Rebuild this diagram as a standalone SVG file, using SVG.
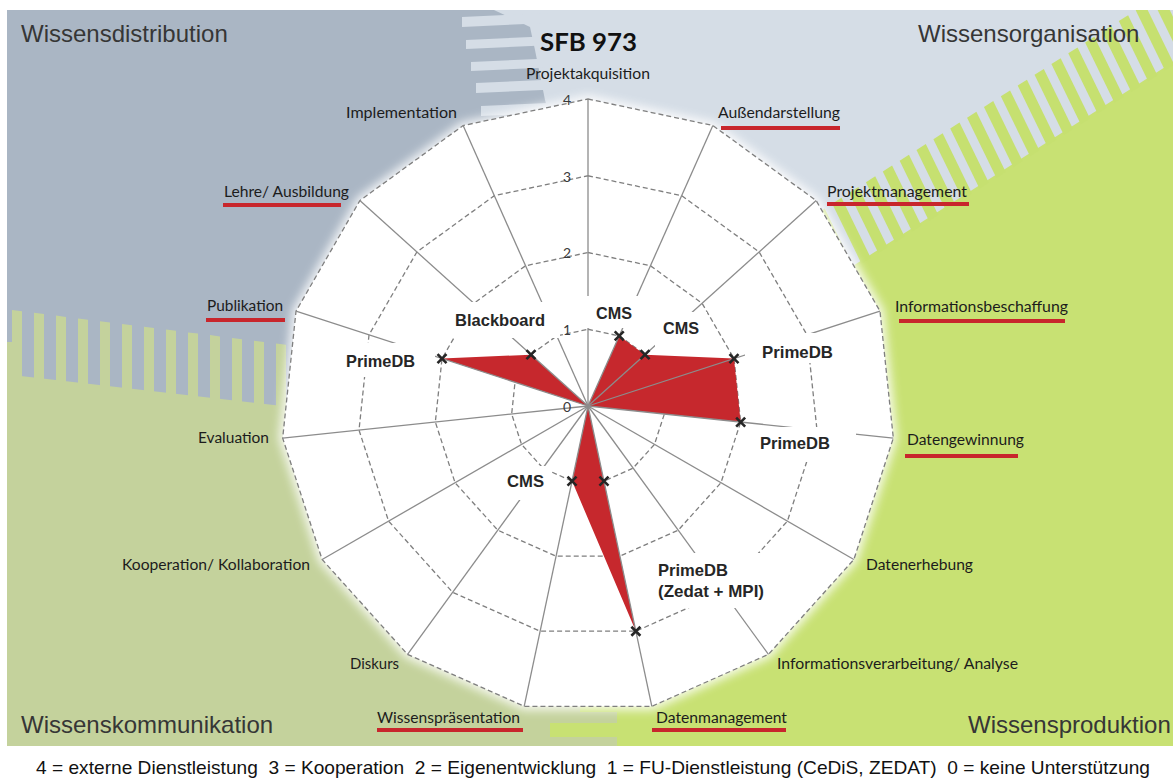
<svg xmlns="http://www.w3.org/2000/svg" width="1173" height="779" viewBox="0 0 1173 779">
<defs>
<style>
.q{font-family:"Liberation Sans",Arial,sans-serif;font-size:24px;fill:#363636}
.ax{font-family:Lato,"Liberation Sans",sans-serif;font-size:14.5px;fill:#1c1c1c}
.dl{font-family:"Liberation Sans",Arial,sans-serif;font-size:16.5px;font-weight:bold;fill:#262626}
.lv{font-family:Lato,"Liberation Sans",sans-serif;font-size:14px;fill:#3a3a3a;text-anchor:end}
.ring{fill:none;stroke:#7f7f7f;stroke-width:1.3;stroke-dasharray:5 3}
.axis{stroke:#8c8c8c;stroke-width:1.3}
.ul{fill:#c8262c}
.box{fill:#fff}
.mk{fill:none;stroke:#262626;stroke-width:2.6}
</style>
<filter id="glow" x="-20%" y="-20%" width="140%" height="140%"><feGaussianBlur stdDeviation="5"/></filter>
<clipPath id="bgclip"><rect x="7" y="10" width="1166" height="736"/></clipPath>
<path id="mk" d="M-4.5,-4.5 L4.5,4.5 M-4.5,4.5 L4.5,-4.5"/>
</defs>

<g id="background" clip-path="url(#bgclip)">
<rect x="7" y="10" width="600" height="736" fill="#c4d29c"/>
<rect x="460" y="10" width="713" height="420" fill="#d5dde6"/>
<polygon fill="#c8e173" points="1173,62 819,287.5 588,406 588,700 580,700 580,746 1173,746"/>
<g fill="#c6e070" transform="matrix(-0.843 0.537 -0.438 -0.899 1173 62)">
<rect x="-60" y="-3" width="11" height="67"/><rect x="-40" y="-3" width="11" height="67"/><rect x="-20" y="-3" width="11" height="67"/><rect x="0" y="-3" width="11" height="67"/><rect x="20" y="-3" width="11" height="67"/><rect x="40" y="-3" width="11" height="67"/><rect x="60" y="-3" width="11" height="67"/><rect x="80" y="-3" width="11" height="67"/><rect x="100" y="-3" width="11" height="67"/><rect x="120" y="-3" width="11" height="67"/><rect x="140" y="-3" width="11" height="67"/><rect x="160" y="-3" width="11" height="67"/><rect x="180" y="-3" width="11" height="67"/><rect x="200" y="-3" width="11" height="67"/><rect x="220" y="-3" width="11" height="67"/><rect x="240" y="-3" width="11" height="67"/><rect x="260" y="-3" width="11" height="67"/><rect x="280" y="-3" width="11" height="67"/><rect x="300" y="-3" width="11" height="67"/><rect x="320" y="-3" width="11" height="67"/><rect x="340" y="-3" width="11" height="67"/><rect x="360" y="-3" width="11" height="67"/><rect x="380" y="-3" width="11" height="67"/><rect x="400" y="-3" width="11" height="67"/>
</g>
<polygon fill="#aab6c4" points="7,10 494,10 530,27 535,50 540,75 545,100 552,125 560,300 300,408 12,375 12,342 7,342"/>
<g fill="#c4d29c">
<polygon points="12,310 22,311.3 22,420 12,420"/><polygon points="34,312.8 44,314.1 44,420 34,420"/><polygon points="56,315.6 66,316.9 66,420 56,420"/><polygon points="78,318.4 88,319.7 88,420 78,420"/><polygon points="100,321.2 110,322.4 110,420 100,420"/><polygon points="122,324 132,325.2 132,420 122,420"/><polygon points="144,326.8 154,328 154,420 144,420"/><polygon points="166,329.6 176,330.8 176,420 166,420"/><polygon points="188,332.4 198,333.6 198,420 188,420"/><polygon points="210,335.1 220,336.4 220,420 210,420"/><polygon points="232,337.9 242,339.2 242,420 232,420"/><polygon points="254,340.7 264,342 264,420 254,420"/><polygon points="276,343.5 286,344.8 286,420 276,420"/>
</g>
<g fill="#d5dde6">
<polygon points="462,17 548,13 548,23 462,27"/><polygon points="466,40 548,36.3 548,45.3 466,49"/><polygon points="471,62 548,58.5 548,67.5 471,71"/><polygon points="476,83 548,79.8 548,89.8 476,93"/><polygon points="481,106 548,103 548,113 481,116"/>
</g>
<rect x="580" y="712" width="37" height="11" fill="#c4d29c"/>
<rect x="550" y="723" width="30" height="14" fill="#c8e173"/>
<rect x="580" y="737" width="37" height="9" fill="#c4d29c"/>
</g>

<g id="quadrant-titles">
<text class="q" x="21" y="42">Wissensdistribution</text>
<text class="q" x="918" y="42">Wissensorganisation</text>
<text class="q" x="21" y="733">Wissenskommunikation</text>
<text class="q" x="968" y="733">Wissensproduktion</text>
</g>

<g id="plot-area">
<polygon fill="#fff" stroke="#fff" stroke-width="8" stroke-linejoin="round" opacity="0.85" filter="url(#glow)" points="588,99 712.87,125.54 816.14,200.58 879.98,311.13 893.32,438.09 853.87,559.5 768.45,654.37 651.83,706.29 524.17,706.29 407.55,654.37 322.13,559.5 282.68,438.09 296.02,311.13 359.86,200.58 463.13,125.54"/>
<polygon fill="#fff" points="588,99 712.87,125.54 816.14,200.58 879.98,311.13 893.32,438.09 853.87,559.5 768.45,654.37 651.83,706.29 524.17,706.29 407.55,654.37 322.13,559.5 282.68,438.09 296.02,311.13 359.86,200.58 463.13,125.54"/>
</g>

<g id="grid">
<polygon class="ring" points="588,99 712.87,125.54 816.14,200.58 879.98,311.13 893.32,438.09 853.87,559.5 768.45,654.37 651.83,706.29 524.17,706.29 407.55,654.37 322.13,559.5 282.68,438.09 296.02,311.13 359.86,200.58 463.13,125.54"/>
<polygon class="ring" points="588,175.75 681.65,195.65 759.11,251.93 806.98,334.85 816.99,430.07 787.4,521.13 723.34,592.28 635.87,631.22 540.13,631.22 452.66,592.28 388.6,521.13 359.01,430.07 369.02,334.85 416.89,251.93 494.35,195.65"/>
<polygon class="ring" points="588,252.5 650.43,265.77 702.07,303.29 733.99,358.57 740.66,422.05 720.94,482.75 678.23,530.18 619.91,556.15 556.09,556.15 497.77,530.18 455.06,482.75 435.34,422.05 442.01,358.57 473.93,303.29 525.57,265.77"/>
<polygon class="ring" points="588,329.25 619.22,335.89 645.04,354.64 660.99,382.28 664.33,414.02 654.47,444.38 633.11,468.09 603.96,481.07 572.04,481.07 542.89,468.09 521.53,444.38 511.67,414.02 515.01,382.28 530.96,354.64 556.78,335.89"/>
</g>

<g id="series">
<path fill="#c6282d" d="M588,406 L619.22,335.89 L645.04,354.64 L733.99,358.57 L740.66,422.05 Z M588,406 L635.87,631.22 L572.04,481.07 Z M588,406 L442.01,358.57 L530.96,354.64 Z"/>
</g>

<g id="connectors">
<line class="axis" x1="588" y1="406" x2="588" y2="99"/>
<line class="axis" x1="588" y1="406" x2="712.87" y2="125.54"/>
<line class="axis" x1="588" y1="406" x2="816.14" y2="200.58"/>
<line class="axis" x1="588" y1="406" x2="879.98" y2="311.13"/>
<line class="axis" x1="588" y1="406" x2="893.32" y2="438.09"/>
<line class="axis" x1="588" y1="406" x2="853.87" y2="559.5"/>
<line class="axis" x1="588" y1="406" x2="768.45" y2="654.37"/>
<line class="axis" x1="588" y1="406" x2="651.83" y2="706.29"/>
<line class="axis" x1="588" y1="406" x2="524.17" y2="706.29"/>
<line class="axis" x1="588" y1="406" x2="407.55" y2="654.37"/>
<line class="axis" x1="588" y1="406" x2="322.13" y2="559.5"/>
<line class="axis" x1="588" y1="406" x2="282.68" y2="438.09"/>
<line class="axis" x1="588" y1="406" x2="296.02" y2="311.13"/>
<line class="axis" x1="588" y1="406" x2="359.86" y2="200.58"/>
<line class="axis" x1="588" y1="406" x2="463.13" y2="125.54"/>
</g>

<g id="level-labels">
<text class="lv" x="571" y="105">4</text>
<text class="lv" x="571" y="181.5">3</text>
<text class="lv" x="571" y="258">2</text>
<text class="lv" x="571" y="335">1</text>
<text class="lv" x="571" y="411.5">0</text>
</g>

<g id="title">
<text x="540" y="51" textLength="97" lengthAdjust="spacingAndGlyphs" style="font-family:Lato,'Liberation Sans',sans-serif;font-size:25px;font-weight:bold;fill:#111">SFB 973</text>
</g>

<g id="axis-labels">
<g id="n-projektakquisition"><text class="ax" x="526" y="79" textLength="124" lengthAdjust="spacingAndGlyphs">Projektakquisition</text></g>
<g id="n-aussendarstellung"><text class="ax" x="718" y="118" textLength="122" lengthAdjust="spacingAndGlyphs">Außendarstellung</text><rect class="ul" x="721" y="126" width="119" height="4"/></g>
<g id="n-projektmanagement"><text class="ax" x="827" y="197" textLength="140" lengthAdjust="spacingAndGlyphs">Projektmanagement</text><rect class="ul" x="827" y="202" width="142" height="4"/></g>
<g id="n-informationsbeschaffung"><text class="ax" x="895" y="312" textLength="173" lengthAdjust="spacingAndGlyphs">Informationsbeschaffung</text><rect class="ul" x="899" y="319" width="166" height="4"/></g>
<g id="n-datengewinnung"><text class="ax" x="907" y="445" textLength="117" lengthAdjust="spacingAndGlyphs">Datengewinnung</text><rect class="ul" x="905" y="454" width="113" height="4"/></g>
<g id="n-datenerhebung"><text class="ax" x="866" y="570" textLength="107" lengthAdjust="spacingAndGlyphs">Datenerhebung</text></g>
<g id="n-informationsverarbeitung"><text class="ax" x="777" y="669" textLength="241" lengthAdjust="spacingAndGlyphs">Informationsverarbeitung/ Analyse</text></g>
<g id="n-datenmanagement"><text class="ax" x="656" y="723" textLength="131" lengthAdjust="spacingAndGlyphs">Datenmanagement</text><rect class="ul" x="652" y="728" width="134" height="4"/></g>
<g id="n-wissenspraesentation"><text class="ax" x="377" y="723" textLength="143" lengthAdjust="spacingAndGlyphs">Wissenspräsentation</text><rect class="ul" x="377" y="728" width="146" height="4"/></g>
<g id="n-diskurs"><text class="ax" x="350" y="669" textLength="49" lengthAdjust="spacingAndGlyphs">Diskurs</text></g>
<g id="n-kooperation"><text class="ax" x="122" y="570" textLength="188" lengthAdjust="spacingAndGlyphs">Kooperation/ Kollaboration</text></g>
<g id="n-evaluation"><text class="ax" x="198" y="443" textLength="71" lengthAdjust="spacingAndGlyphs">Evaluation</text></g>
<g id="n-publikation"><text class="ax" x="207" y="311" textLength="76" lengthAdjust="spacingAndGlyphs">Publikation</text><rect class="ul" x="206" y="318" width="79" height="4"/></g>
<g id="n-lehre"><text class="ax" x="224" y="197" textLength="125" lengthAdjust="spacingAndGlyphs">Lehre/ Ausbildung</text><rect class="ul" x="223" y="203" width="118" height="4"/></g>
<g id="n-implementation"><text class="ax" x="346" y="118" textLength="111" lengthAdjust="spacingAndGlyphs">Implementation</text></g>
</g>

<g id="data-labels">
<g id="d-blackboard"><rect class="box" x="448" y="302" width="112" height="36"/><text class="dl" x="455" y="326" textLength="90" lengthAdjust="spacingAndGlyphs">Blackboard</text></g>
<g id="d-primedb-pub"><rect class="box" x="340" y="343" width="95" height="34"/><text class="dl" x="346" y="367" textLength="69" lengthAdjust="spacingAndGlyphs">PrimeDB</text></g>
<g id="d-cms-aus"><rect class="box" x="584" y="296" width="56" height="32"/><text class="dl" x="596" y="319" textLength="36" lengthAdjust="spacingAndGlyphs">CMS</text></g>
<g id="d-cms-pm"><rect class="box" x="655" y="312" width="52" height="35"/><text class="dl" x="663" y="334" textLength="36" lengthAdjust="spacingAndGlyphs">CMS</text></g>
<g id="d-primedb-info"><rect class="box" x="745" y="333" width="92" height="30"/><text class="dl" x="762" y="358" textLength="71" lengthAdjust="spacingAndGlyphs">PrimeDB</text></g>
<g id="d-primedb-daten"><rect class="box" x="752" y="427" width="104" height="35"/><text class="dl" x="760" y="449" textLength="70" lengthAdjust="spacingAndGlyphs">PrimeDB</text></g>
<g id="d-cms-wp"><rect class="box" x="500" y="466" width="50" height="34"/><text class="dl" x="507" y="487" textLength="37" lengthAdjust="spacingAndGlyphs">CMS</text></g>
<g id="d-primedb-dm"><rect class="box" x="650" y="553" width="120" height="55"/><text class="dl" x="658" y="576" textLength="70" lengthAdjust="spacingAndGlyphs">PrimeDB</text><text class="dl" x="658" y="597" textLength="106" lengthAdjust="spacingAndGlyphs">(Zedat + MPI)</text></g>
</g>

<g id="markers" class="mk">
<use href="#mk" x="619.22" y="335.89"/>
<use href="#mk" x="645.04" y="354.64"/>
<use href="#mk" x="733.99" y="358.57"/>
<use href="#mk" x="740.66" y="422.05"/>
<use href="#mk" x="603.96" y="481.07"/>
<use href="#mk" x="635.87" y="631.22"/>
<use href="#mk" x="572.04" y="481.07"/>
<use href="#mk" x="442.01" y="358.57"/>
<use href="#mk" x="530.96" y="354.64"/>
</g>

<g id="legend">
<text x="36" y="774" xml:space="preserve" textLength="1114" lengthAdjust="spacingAndGlyphs" style="font-family:'Liberation Sans',Arial,sans-serif;font-size:19px;fill:#111">4 = externe Dienstleistung  3 = Kooperation  2 = Eigenentwicklung  1 = FU-Dienstleistung (CeDiS, ZEDAT)  0 = keine Unterstützung</text>
</g>
</svg>
